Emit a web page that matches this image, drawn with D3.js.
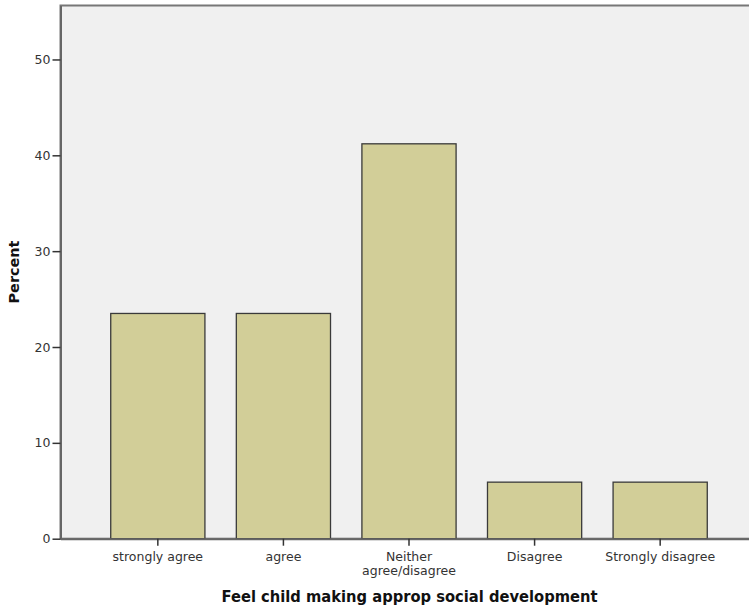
<!DOCTYPE html>
<html><head><meta charset="utf-8">
<script src="https://cdn.jsdelivr.net/npm/d3@7"></script>
<style>body{margin:0;background:#fff;} svg{display:block;}</style>
</head><body>
<svg id="c" width="749" height="609"></svg>
<script>
const categories = ["strongly agree", "agree", "Neither agree/disagree", "Disagree", "Strongly disagree"];
const categoryLines = [["strongly agree"], ["agree"], ["Neither", "agree/disagree"], ["Disagree"], ["Strongly disagree"]];
const percents = [23.5, 23.5, 41.2, 5.9, 5.9];
const yTicks = [0, 10, 20, 30, 40, 50];
const xTitle = "Feel child making approp social development";
const yTitle = "Percent";

const svg = d3.select("#c");
const pL = 60.5, pR = 757.5, pT = 5.5, pB = 538.7;
const x = d3.scaleBand().domain(categories).range([pL, pR]).paddingInner(0.25).paddingOuter(0.4);
const y = d3.scaleLinear().domain([0, 55.63]).range([pB, pT]);

svg.append("rect").attr("x", pL).attr("y", pT).attr("width", pR - pL).attr("height", pB - pT)
  .attr("fill", "#f0f0f0").attr("stroke", "#777").attr("stroke-width", 2);

svg.append("g").selectAll("rect").data(percents).join("rect")
  .attr("x", (d, i) => x(categories[i]))
  .attr("y", d => y(d))
  .attr("width", x.bandwidth())
  .attr("height", d => y(0) - y(d))
  .attr("fill", "#d2ce98").attr("stroke", "#3a3a3a").attr("stroke-width", 1.3);

// y axis
const ya = svg.append("g").attr("transform", `translate(${pL},0)`)
  .call(d3.axisLeft(y).tickValues(yTicks).tickSize(8).tickSizeOuter(0).tickPadding(2).tickFormat(d3.format("d")));
ya.attr("font-size", null).attr("font-family", null);
ya.select(".domain").attr("stroke", "#666").attr("stroke-width", 2);
ya.selectAll(".tick line").attr("stroke", "#333").attr("stroke-width", 1.5);
ya.selectAll(".tick text").style("font-family", "DejaVu Sans").style("font-size", "12.5px").attr("fill", "#333");

// x axis
const xa = svg.append("g").attr("transform", `translate(0,${pB})`)
  .call(d3.axisBottom(x).tickSize(7).tickSizeOuter(0).tickFormat(""));
xa.attr("font-size", null).attr("font-family", null);
xa.select(".domain").attr("stroke", "#666").attr("stroke-width", 2);
xa.selectAll(".tick line").attr("stroke", "#333").attr("stroke-width", 1.5);
xa.selectAll(".tick").each(function(d, i) {
  const t = d3.select(this).append("text").style("font-family", "DejaVu Sans").style("font-size", "12.5px")
    .attr("fill", "#333").attr("text-anchor", "middle");
  categoryLines[i].forEach((ln, k) => {
    t.append("tspan").attr("x", 0).attr("y", 22 + k * 14).text(ln);
  });
});

svg.append("text").attr("x", 409.5).attr("y", 602).attr("text-anchor", "middle")
  .style("font-family", "DejaVu Sans").attr("font-weight", "bold").style("font-size", "16.5px")
  .attr("fill", "#111").attr("textLength", 376).attr("lengthAdjust", "spacingAndGlyphs").text(xTitle);

svg.append("text").attr("transform", "translate(19,272) rotate(-90)").attr("text-anchor", "middle")
  .style("font-family", "DejaVu Sans").attr("font-weight", "bold").style("font-size", "14px")
  .attr("fill", "#111").attr("textLength", 63).attr("lengthAdjust", "spacingAndGlyphs").text(yTitle);
</script>
</body></html>
